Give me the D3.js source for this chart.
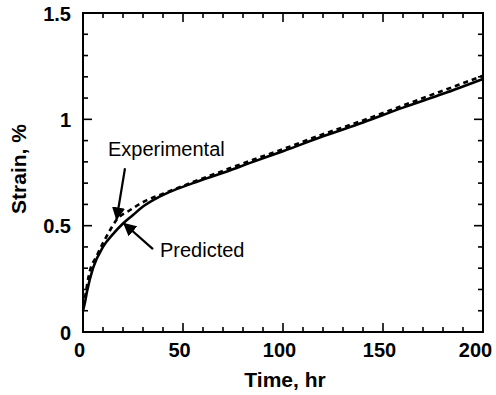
<!DOCTYPE html>
<html>
<head>
<meta charset="utf-8">
<script src="https://cdn.jsdelivr.net/npm/d3@7"></script>
<style>
  body { margin: 0; background: #fff; }
  text { font-family: "Liberation Sans", Arial, sans-serif; }
</style>
</head>
<body>
<div id="chart"></div>
<script>
// curves (time in hr, strain in %)
var predT = [0, 1, 2, 5, 10, 15, 20, 25, 30, 38, 45, 55, 72, 85, 100, 120, 140, 160, 180, 200];
var predS = [0.10, 0.14, 0.19, 0.30, 0.40, 0.46, 0.51, 0.55, 0.59, 0.635, 0.665, 0.70, 0.755, 0.80, 0.85, 0.92, 0.985, 1.055, 1.12, 1.19];
var expT = [1, 3, 7, 13, 17, 23, 28, 32, 40, 55, 72, 85, 100, 120, 140, 160, 180, 200];
var expS = [0.16, 0.27, 0.36, 0.47, 0.53, 0.57, 0.60, 0.62, 0.65, 0.705, 0.765, 0.81, 0.86, 0.93, 0.995, 1.065, 1.135, 1.205];
var xTicks = [0, 50, 100, 150, 200];
var yTicks = [0, 0.5, 1, 1.5];

var w = 496, h = 395;
var svg = d3.select("#chart").append("svg")
    .attr("width", w)
    .attr("height", h);

var x = d3.scaleLinear().domain([0, 200]).range([83, 483]);
var y = d3.scaleLinear().domain([0, 1.5]).range([332, 13]);

// frame
svg.append("rect")
    .attr("x", 83).attr("y", 13)
    .attr("width", 400).attr("height", 319)
    .style("fill", "none").style("stroke", "#000").style("stroke-width", 2);

// minor ticks all four sides, pointing inward
var xMinor = d3.range(0, 201, 10);
var yMinor = d3.range(0, 1.51, 0.1);
var ticks = svg.append("g").style("stroke", "#000").style("stroke-width", 1.6);
xMinor.forEach(function(t) {
    var len = (t % 50 === 0) ? 9 : 5;
    ticks.append("line").attr("x1", x(t)).attr("x2", x(t)).attr("y1", 332).attr("y2", 332 - len);
    ticks.append("line").attr("x1", x(t)).attr("x2", x(t)).attr("y1", 13).attr("y2", 13 + len);
});
yMinor.forEach(function(s, i) {
    var len = (i % 5 === 0) ? 9 : 5;
    ticks.append("line").attr("x1", 83).attr("x2", 83 + len).attr("y1", y(s)).attr("y2", y(s));
    ticks.append("line").attr("x1", 483).attr("x2", 483 - len).attr("y1", y(s)).attr("y2", y(s));
});

// tick labels via axes, lines removed
var xAxis = d3.axisBottom(x).tickValues(xTicks).tickSize(0).tickPadding(11).tickFormat(d3.format("d"));
var yAxis = d3.axisLeft(y).tickValues(yTicks).tickSize(0).tickPadding(12).tickFormat(function(d) { return d; });

var gx = svg.append("g").attr("transform", "translate(0,332)").call(xAxis);
var gy = svg.append("g").attr("transform", "translate(83,0)").call(yAxis);
[gx, gy].forEach(function(g) {
    g.select(".domain").remove();
    g.selectAll("text")
        .style("font-family", "'Liberation Sans', Arial, sans-serif")
        .style("font-size", "20px")
        .style("font-weight", "bold")
        .style("fill", "#000");
});
gy.selectAll("text").attr("dy", "0.35em");
gx.selectAll("text").attr("dx", function(d) { return d === 200 ? -8 : -4; });

// axis titles
svg.append("text")
    .attr("x", 285).attr("y", 387)
    .attr("text-anchor", "middle")
    .style("font-size", "21px").style("font-weight", "bold")
    .text("Time, hr");

svg.append("text")
    .attr("transform", "translate(26,169) rotate(-90)")
    .attr("text-anchor", "middle")
    .style("font-size", "21px").style("font-weight", "bold")
    .text("Strain, %");

// curves
var line = d3.line().curve(d3.curveMonotoneX);

svg.append("path")
    .datum(expT.map(function(t, i) { return [x(t), y(expS[i])]; }))
    .attr("d", line)
    .style("fill", "none").style("stroke", "#000")
    .style("stroke-width", 2.6).style("stroke-dasharray", "5,4");

svg.append("path")
    .datum(predT.map(function(t, i) { return [x(t), y(predS[i])]; }))
    .attr("d", line)
    .style("fill", "none").style("stroke", "#000")
    .style("stroke-width", 2.6);

// annotations
svg.append("defs").append("marker")
    .attr("id", "arrow")
    .attr("viewBox", "0 0 10 10")
    .attr("refX", 9).attr("refY", 5)
    .attr("markerWidth", 6).attr("markerHeight", 6)
    .attr("orient", "auto")
  .append("path")
    .attr("d", "M0,0 L10,5 L0,10 z")
    .style("fill", "#000");

svg.append("text")
    .attr("x", 108).attr("y", 156)
    .style("font-size", "20px")
    .text("Experimental");

svg.append("line")
    .attr("x1", x(21)).attr("y1", y(0.77))
    .attr("x2", x(16.8)).attr("y2", y(0.53))
    .style("stroke", "#000").style("stroke-width", 2.2)
    .attr("marker-end", "url(#arrow)");

svg.append("text")
    .attr("x", 160).attr("y", 257)
    .style("font-size", "20px")
    .text("Predicted");

svg.append("line")
    .attr("x1", x(35)).attr("y1", y(0.39))
    .attr("x2", x(20.5)).attr("y2", y(0.51))
    .style("stroke", "#000").style("stroke-width", 2.2)
    .attr("marker-end", "url(#arrow)");
</script>
</body>
</html>
